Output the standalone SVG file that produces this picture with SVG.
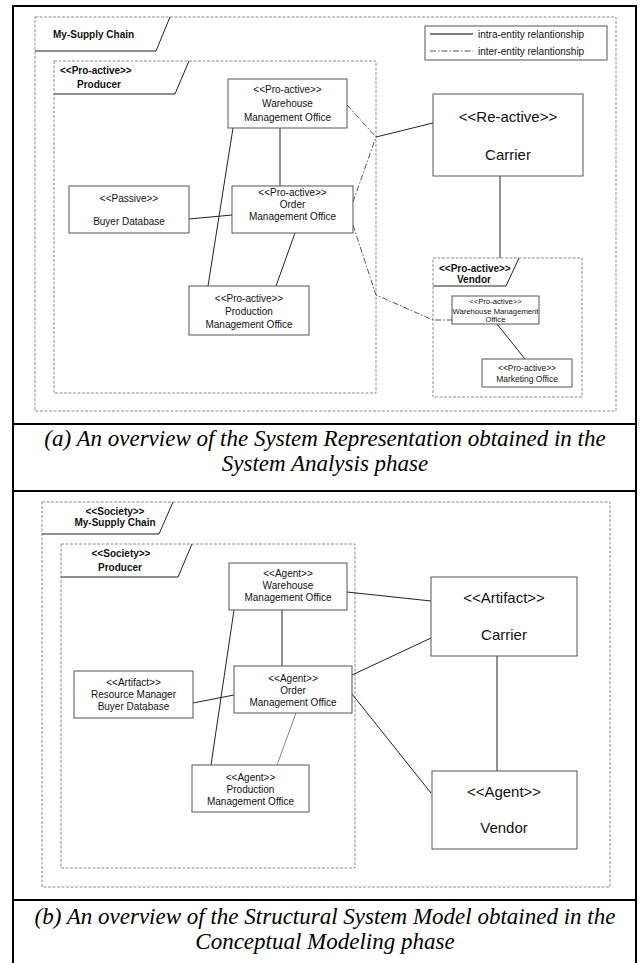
<svg xmlns="http://www.w3.org/2000/svg" width="640" height="963" viewBox="0 0 640 963">
  <defs>
    <style>
      .frame{fill:none;stroke:#000;stroke-width:2}
      .pkg{fill:none;stroke:#8c8c8c;stroke-width:1;stroke-dasharray:3 1.5}
      .tab{fill:none;stroke:#222;stroke-width:1}
      .box{fill:#fff;stroke:#555;stroke-width:1}
      .t{font-family:"Liberation Sans",Arial,sans-serif;font-size:10px;fill:#111;text-anchor:middle}
      .s{text-anchor:start}
      .b{font-weight:bold}
      .big{font-size:15px}
      .tiny{font-size:7.7px}
      .small{font-size:8.5px}
      .cap{font-family:"Liberation Serif","Times New Roman",serif;font-style:italic;font-size:23px;text-anchor:middle;fill:#000}
      .rel{fill:none;stroke:#222;stroke-width:1}
      .soft{stroke:#888}
      .inter{fill:none;stroke:#555;stroke-width:1;stroke-dasharray:6 2 1.5 2}
    </style>
  </defs>

  <!-- page frame and panel separators -->
  <g id="page">
    <path class="frame" d="M13,963 V6 H636 V963"/>
    <line class="frame" x1="13" y1="424" x2="636" y2="424"/>
    <line class="frame" x1="13" y1="491" x2="636" y2="491"/>
    <line class="frame" x1="13" y1="900" x2="636" y2="900"/>
  </g>

  <!-- ===== panel (a) ===== -->
  <g id="a-supply-chain">
    <rect class="pkg" x="35" y="17" width="581" height="394"/>
    <path class="tab" d="M35,51 H156 L170,17"/>
    <text class="t s b" x="53" y="38" font-size="12">My-Supply Chain</text>
  </g>

  <g id="a-legend">
    <rect x="425" y="26" width="182" height="34" fill="#fff" stroke="#555"/>
    <line x1="430" y1="34" x2="473" y2="34" stroke="#000"/>
    <text class="t s" x="478" y="38">intra-entity relantionship</text>
    <line class="inter" x1="430" y1="51" x2="473" y2="51" stroke="#888"/>
    <text class="t s" x="478" y="55">inter-entity relantionship</text>
  </g>

  <g id="a-producer">
    <rect class="pkg" x="54" y="61" width="322" height="332"/>
    <path class="tab" d="M54,94 H175 L189,61"/>
    <text class="t s b" x="60" y="74" font-size="12">&lt;&lt;Pro-active&gt;&gt;</text>
    <text class="t s b" x="77" y="88" font-size="12">Producer</text>
  </g>

  <g id="a-vendor">
    <rect class="pkg" x="433" y="258" width="149" height="139"/>
    <path class="tab" d="M433,286 H506 L519,258"/>
    <text class="t s b" x="439" y="272">&lt;&lt;Pro-active&gt;&gt;</text>
    <text class="t s b" x="457" y="283">Vendor</text>
  </g>

  <!-- connectors (a) -->
  <g id="a-connectors">
    <line class="rel" x1="280" y1="128" x2="280" y2="186" stroke-width="1.3"/>
    <line class="rel" x1="233" y1="128" x2="208" y2="286"/>
    <line class="rel" x1="189" y1="219" x2="232" y2="215"/>
    <line class="rel" x1="295" y1="233" x2="276" y2="286"/>
    <line class="rel" x1="376" y1="137" x2="433" y2="123"/>
    <line class="rel" x1="500" y1="176" x2="500" y2="258" stroke-width="1.3"/>
    <line class="rel" x1="497" y1="324" x2="525" y2="359"/>
    <polyline class="inter" points="347,105 376,137"/>
    <polyline class="inter" points="353,202 376,137"/>
    <polyline class="inter" points="353,225 376,295 433,320 452,320"/>
  </g>

  <g id="a-warehouse">
    <rect class="box" x="228" y="79" width="119" height="49"/>
    <text class="t" x="287.5" y="93">&lt;&lt;Pro-active&gt;&gt;</text>
    <text class="t" x="287.5" y="107">Warehouse</text>
    <text class="t" x="287.5" y="121">Management Office</text>
  </g>
  <g id="a-order">
    <rect class="box" x="232" y="186" width="121" height="47"/>
    <text class="t" x="292.5" y="196">&lt;&lt;Pro-active&gt;&gt;</text>
    <text class="t" x="292.5" y="208">Order</text>
    <text class="t" x="292.5" y="220">Management Office</text>
  </g>
  <g id="a-buyer">
    <rect class="box" x="69" y="186" width="120" height="47"/>
    <text class="t" x="129" y="202">&lt;&lt;Passive&gt;&gt;</text>
    <text class="t" x="129" y="225">Buyer Database</text>
  </g>
  <g id="a-production">
    <rect class="box" x="189" y="286" width="120" height="49"/>
    <text class="t" x="249" y="302">&lt;&lt;Pro-active&gt;&gt;</text>
    <text class="t" x="249" y="315">Production</text>
    <text class="t" x="249" y="328">Management Office</text>
  </g>
  <g id="a-carrier">
    <rect class="box" x="433" y="94" width="150" height="82"/>
    <text class="t big" x="508" y="122">&lt;&lt;Re-active&gt;&gt;</text>
    <text class="t big" x="508" y="160">Carrier</text>
  </g>
  <g id="a-vendor-warehouse">
    <rect class="box" x="452" y="296" width="87" height="28"/>
    <text class="t tiny" x="495.5" y="304">&lt;&lt;Pro-active&gt;&gt;</text>
    <text class="t tiny" x="495.5" y="314">Warehouse Management</text>
    <text class="t tiny" x="495.5" y="322">Office</text>
  </g>
  <g id="a-marketing">
    <rect class="box" x="482" y="359" width="90" height="28"/>
    <text class="t small" x="527" y="371">&lt;&lt;Pro-active&gt;&gt;</text>
    <text class="t small" x="527" y="382">Marketing Office</text>
  </g>

  <g id="a-caption">
    <text class="cap" x="325" y="446">(a) An overview of the System Representation obtained in the</text>
    <text class="cap" x="325" y="471">System Analysis phase</text>
  </g>

  <!-- ===== panel (b) ===== -->
  <g id="b-supply-chain">
    <rect class="pkg" x="42" y="502" width="568" height="385"/>
    <path class="tab" d="M42,534 H159 L173,502"/>
    <text class="t b" x="115" y="515">&lt;&lt;Society&gt;&gt;</text>
    <text class="t b" x="115" y="526">My-Supply Chain</text>
  </g>

  <g id="b-producer">
    <rect class="pkg" x="61" y="544" width="294" height="324"/>
    <path class="tab" d="M61,577 H178 L192,544"/>
    <text class="t b" x="121" y="557" font-size="12">&lt;&lt;Society&gt;&gt;</text>
    <text class="t b" x="120" y="571" font-size="12">Producer</text>
  </g>

  <!-- connectors (b) -->
  <g id="b-connectors">
    <line class="rel" x1="282" y1="610" x2="282" y2="666" stroke-width="1.3"/>
    <line class="rel" x1="234" y1="610" x2="211" y2="765"/>
    <line class="rel" x1="193" y1="703" x2="234" y2="695"/>
    <line class="rel soft" x1="296" y1="713" x2="277" y2="765"/>
    <line class="rel" x1="347" y1="592" x2="431" y2="601"/>
    <line class="rel" x1="352" y1="675" x2="431" y2="638"/>
    <line class="rel" x1="352" y1="694" x2="431" y2="793"/>
    <line class="rel" x1="497" y1="656" x2="497" y2="771" stroke-width="1.3"/>
  </g>

  <g id="b-warehouse">
    <rect class="box" x="229" y="563" width="118" height="47"/>
    <text class="t" x="288" y="577">&lt;&lt;Agent&gt;&gt;</text>
    <text class="t" x="288" y="589">Warehouse</text>
    <text class="t" x="288" y="601">Management Office</text>
  </g>
  <g id="b-order">
    <rect class="box" x="234" y="666" width="118" height="47"/>
    <text class="t" x="293" y="682">&lt;&lt;Agent&gt;&gt;</text>
    <text class="t" x="293" y="694">Order</text>
    <text class="t" x="293" y="706">Management Office</text>
  </g>
  <g id="b-resource">
    <rect class="box" x="74" y="671" width="119" height="47"/>
    <text class="t" x="133.5" y="686">&lt;&lt;Artifact&gt;&gt;</text>
    <text class="t" x="133.5" y="698">Resource Manager</text>
    <text class="t" x="133.5" y="710">Buyer Database</text>
  </g>
  <g id="b-production">
    <rect class="box" x="192" y="765" width="117" height="47"/>
    <text class="t" x="250.5" y="781">&lt;&lt;Agent&gt;&gt;</text>
    <text class="t" x="250.5" y="793">Production</text>
    <text class="t" x="250.5" y="805">Management Office</text>
  </g>
  <g id="b-carrier">
    <rect class="box" x="431" y="577" width="146" height="79"/>
    <text class="t big" x="504" y="603">&lt;&lt;Artifact&gt;&gt;</text>
    <text class="t big" x="504" y="640">Carrier</text>
  </g>
  <g id="b-vendor">
    <rect class="box" x="432" y="771" width="145" height="78"/>
    <text class="t big" x="504" y="797">&lt;&lt;Agent&gt;&gt;</text>
    <text class="t big" x="504" y="833">Vendor</text>
  </g>

  <g id="b-caption">
    <text class="cap" x="325" y="924">(b) An overview of the Structural System Model obtained in the</text>
    <text class="cap" x="325" y="949">Conceptual Modeling phase</text>
  </g>
</svg>
